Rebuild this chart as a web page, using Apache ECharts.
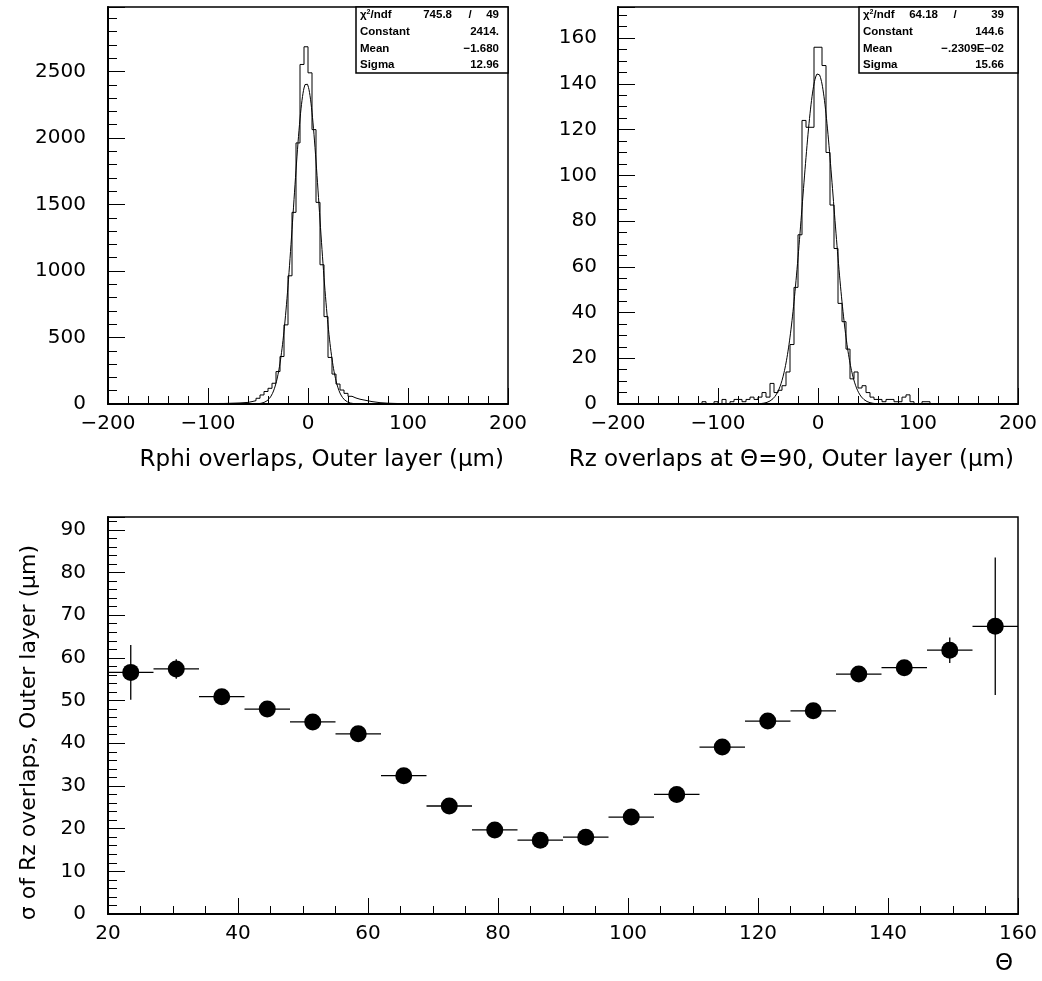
<!DOCTYPE html>
<html><head><meta charset="utf-8">
<script src="https://cdn.jsdelivr.net/npm/echarts@6/dist/echarts.min.js"></script>
<style>html,body{margin:0;padding:0;background:#fff}#c{width:1042px;height:981px}</style>
</head><body><div id="c"></div>
<script>
// ---------- data ----------
const BIN_START = -200;
const BIN_WIDTH = 4;
// Rphi overlaps, outer layer: 100 bins of 4 um from -200 to 200
const rphiCounts = [
  0,0,0,0,0,0,0,0,0,0, 0,0,0,0,0,0,0,0,0,
  0,1,1,1,2,2,3,3,4,4,
  5,6,7,8,10,12,18,25,43,68,
  94,118,156,244,357,595,964,1441,1963,2553,
  2686,2490,2063,1516,1047,657,350,225,150,105,
  80,58,45,36,30,24,18,14,10,8,
  6,5,4,3,3,2,2,1,1,1,
  0,0,0,0,0,0,0,0,0,0, 0,0,0,0,0,0,0,0,0,0, 0
];
// Rz overlaps at theta=90, outer layer
const rzCounts = [
  0,0,0,0,0,0,0,0,0,0, 0,0,0,0,0,0,0,0,0,0, 0,
  1,0,0,1,0,2,0,1,2,2,
  1,2,3,2,3,5,3,9,5,6,
  8,14,26,51,74,124,121,121,156,156,
  148,110,87,68,44,36,24,11,14,7,
  8,5,3,2,2,1,2,2,1,1,
  3,4,1,0,0,1,1,
  0,0,0,0,0,0,0,0,0,0, 0,0,0,0,0,0,0,0,0,0, 0,0
];
// Gaussian fit parameters [Constant, Mean, Sigma] and fit ranges
const rphiFitParams = [2414, -1.680, 12.96];
const rzFitParams = [144.6, -0.002309, 15.66];
const rphiFitRange = [-104, 104];
const rzFitRange = [-84, 84];
// stats box texts
const rphiStatsText = ['745.8', '49', '2414.', '\u22121.680', '12.96'];
const rzStatsText = ['64.18', '39', '144.6', '\u2212.2309E\u221202', '15.66'];
const statsLabels = ['Constant', 'Mean', 'Sigma'];

// sigma of Rz overlaps vs theta
const thetaCenters = [23.5, 30.5, 37.5, 44.5, 51.5, 58.5, 65.5, 72.5, 79.5, 86.5,
                      93.5, 100.5, 107.5, 114.5, 121.5, 128.5, 135.5, 142.5, 149.5, 156.5];
const thetaHalfWidths = [3.5, 3.5, 3.5, 3.5, 3.5, 3.5, 3.5, 3.5, 3.5, 3.5,
                         3.5, 3.5, 3.5, 3.5, 3.5, 3.5, 3.5, 3.5, 3.5, 3.5];
const sigmaValues = [56.6, 57.4, 50.9, 48.0, 45.0, 42.2, 32.4, 25.3, 19.7, 17.3,
                     18.0, 22.7, 28.0, 39.1, 45.2, 47.6, 56.2, 57.7, 61.8, 67.4];
const sigmaErrors = [6.4, 2.3, 1.0, 1.0, 1.0, 1.0, 1.0, 0.9, 0.8, 0.8,
                     0.8, 0.9, 1.0, 1.2, 1.3, 1.3, 1.5, 1.8, 3.0, 16.1];

// ---------- helpers ----------
const FONT = 'DejaVu Sans';
const minusFmt = v => (v < 0 ? '\u2212' + (-v) : String(v));
const plainFmt = v => String(v);

function histPoints(counts) {
  const pts = counts.map((c, i) => [BIN_START + i * BIN_WIDTH, c]);
  pts.push([BIN_START + counts.length * BIN_WIDTH, counts[counts.length - 1]]);
  return pts;
}
function gaussPoints(p, range) {
  const pts = [];
  for (let x = range[0]; x <= range[1] + 1e-9; x += 0.5) {
    pts.push([x, p[0] * Math.exp(-0.5 * Math.pow((x - p[1]) / p[2], 2))]);
  }
  return pts;
}

function xAxisCfg(grid, min, max, interval, minorSplit, name, gap, padTop) {
  return {
    type: 'value', gridIndex: grid, min: min, max: max, interval: interval,
    axisLine: {show: true, onZero: false, lineStyle: {color: '#000', width: 2}},
    axisTick: {show: true, inside: true, length: 16, lineStyle: {color: '#000', width: 1}},
    minorTick: {show: true, splitNumber: minorSplit, length: 8, lineStyle: {color: '#000', width: 1}},
    splitLine: {show: false}, minorSplitLine: {show: false},
    axisLabel: {color: '#000', fontSize: 20, fontFamily: FONT, margin: 10, formatter: minusFmt,
                showMinLabel: true, showMaxLabel: true},
    name: name, nameLocation: 'end', nameGap: gap,
    nameTextStyle: {color: '#000', fontSize: 23, fontFamily: FONT, align: 'right',
                    verticalAlign: 'top', padding: [padTop, 0, 0, 0]}
  };
}
function yAxisCfg(grid, max, interval, minorSplit, margin) {
  return {
    type: 'value', gridIndex: grid, min: 0, max: max, interval: interval,
    axisLine: {show: true, onZero: false, lineStyle: {color: '#000', width: 2}},
    axisTick: {show: true, inside: true, length: 17, lineStyle: {color: '#000', width: 1}},
    minorTick: {show: true, splitNumber: minorSplit, length: 9, lineStyle: {color: '#000', width: 1}},
    splitLine: {show: false}, minorSplitLine: {show: false},
    axisLabel: {color: '#000', fontSize: 20, fontFamily: FONT, margin: margin, showMaxLabel: false,
                formatter: plainFmt}
  };
}

function statsBox(boxL, boxR, chiValR, slashX, valR, texts) {
  const rowY = [15, 32, 49, 65];
  const F = 'bold 11.5px "Liberation Sans"';
  const ts = {fill: '#000', font: F, textVerticalAlign: 'middle'};
  const kids = [
    {type: 'rect', shape: {x: boxL, y: 7, width: boxR - boxL, height: 66},
     style: {fill: '#fff', stroke: '#000', lineWidth: 1.5}},
    {type: 'text', style: Object.assign({}, ts, {x: boxL + 4, y: rowY[0], text: '{a|\u03c7}{s|2}{a|/ndf}',
      rich: {a: {font: F, fill: '#000'},
             s: {font: 'bold 7px "Liberation Sans"', fill: '#000', verticalAlign: 'top', padding: [0, 0, 6, 0]}}})},
    {type: 'text', style: Object.assign({}, ts, {x: chiValR, y: rowY[0], text: texts[0], textAlign: 'right'})},
    {type: 'text', style: Object.assign({}, ts, {x: slashX, y: rowY[0], text: '/', textAlign: 'center'})},
    {type: 'text', style: Object.assign({}, ts, {x: valR, y: rowY[0], text: texts[1], textAlign: 'right'})}
  ];
  for (let i = 0; i < 3; i++) {
    kids.push({type: 'text', style: Object.assign({}, ts, {x: boxL + 4, y: rowY[i + 1], text: statsLabels[i]})});
    kids.push({type: 'text', style: Object.assign({}, ts, {x: valR, y: rowY[i + 1], text: texts[i + 2], textAlign: 'right'})});
  }
  return {type: 'group', children: kids, z: 100};
}

const chart = echarts.init(document.getElementById('c'), null, {renderer: 'canvas'});
chart.setOption({
  animation: false,
  backgroundColor: '#fff',
  grid: [
    {left: 108, top: 7, width: 400, height: 397, show: true, borderColor: '#000', borderWidth: 1.5, backgroundColor: 'transparent'},
    {left: 618, top: 7, width: 400, height: 397, show: true, borderColor: '#000', borderWidth: 1.5, backgroundColor: 'transparent'},
    {left: 108, top: 517, width: 910, height: 397, show: true, borderColor: '#000', borderWidth: 1.5, backgroundColor: 'transparent'}
  ],
  xAxis: [
    xAxisCfg(0, -200, 200, 100, 5, 'Rphi overlaps, Outer layer (\u03bcm)', -4, 45),
    xAxisCfg(1, -200, 200, 100, 5, 'Rz overlaps at \u0398=90, Outer layer (\u03bcm)', -4, 45),
    xAxisCfg(2, 20, 160, 20, 4, '\u0398', -5, 39)
  ],
  yAxis: [
    yAxisCfg(0, 2985, 500, 5, 22),
    yAxisCfg(1, 173.6, 20, 4, 21),
    Object.assign(yAxisCfg(2, 93, 10, 5, 22), {
      name: '\u03c3 of Rz overlaps, Outer layer (\u03bcm)', nameLocation: 'middle', nameGap: 68, nameRotate: 90,
      nameTextStyle: {color: '#000', fontSize: 22, fontFamily: FONT, padding: [0, 34, 0, 0]}
    })
  ],
  series: [
    {type: 'line', xAxisIndex: 0, yAxisIndex: 0, step: 'end', data: histPoints(rphiCounts),
     symbol: 'none', lineStyle: {color: '#000', width: 1}, clip: true},
    {type: 'line', xAxisIndex: 0, yAxisIndex: 0, data: gaussPoints(rphiFitParams, rphiFitRange),
     symbol: 'none', smooth: false, lineStyle: {color: '#000', width: 1}, clip: true},
    {type: 'line', xAxisIndex: 1, yAxisIndex: 1, step: 'end', data: histPoints(rzCounts),
     symbol: 'none', lineStyle: {color: '#000', width: 1}, clip: true},
    {type: 'line', xAxisIndex: 1, yAxisIndex: 1, data: gaussPoints(rzFitParams, rzFitRange),
     symbol: 'none', smooth: false, lineStyle: {color: '#000', width: 1}, clip: true},
    {type: 'custom', xAxisIndex: 2, yAxisIndex: 2, z: 2,
     data: thetaCenters.map((t, i) => [t, sigmaValues[i], thetaHalfWidths[i], sigmaErrors[i]]),
     encode: {x: 0, y: 1},
     renderItem: function (params, api) {
       const x = api.value(0), y = api.value(1), ex = api.value(2), ey = api.value(3);
       const l = api.coord([x - ex, y]), r = api.coord([x + ex, y]);
       const t = api.coord([x, y + ey]), b = api.coord([x, y - ey]);
       return {type: 'group', children: [
         {type: 'line', shape: {x1: l[0], y1: l[1], x2: r[0], y2: r[1]}, style: {stroke: '#000', lineWidth: 1.3}},
         {type: 'line', shape: {x1: t[0], y1: t[1], x2: b[0], y2: b[1]}, style: {stroke: '#000', lineWidth: 1.3}}
       ]};
     }},
    {type: 'scatter', xAxisIndex: 2, yAxisIndex: 2, z: 5,
     data: thetaCenters.map((t, i) => [t, sigmaValues[i]]),
     symbol: 'circle', symbolSize: 17, itemStyle: {color: '#000', opacity: 1}}
  ],
  graphic: [
    statsBox(356, 508, 452, 470, 499, rphiStatsText),
    statsBox(859, 1018, 938, 955, 1004, rzStatsText)
  ]
});
</script></body></html>
